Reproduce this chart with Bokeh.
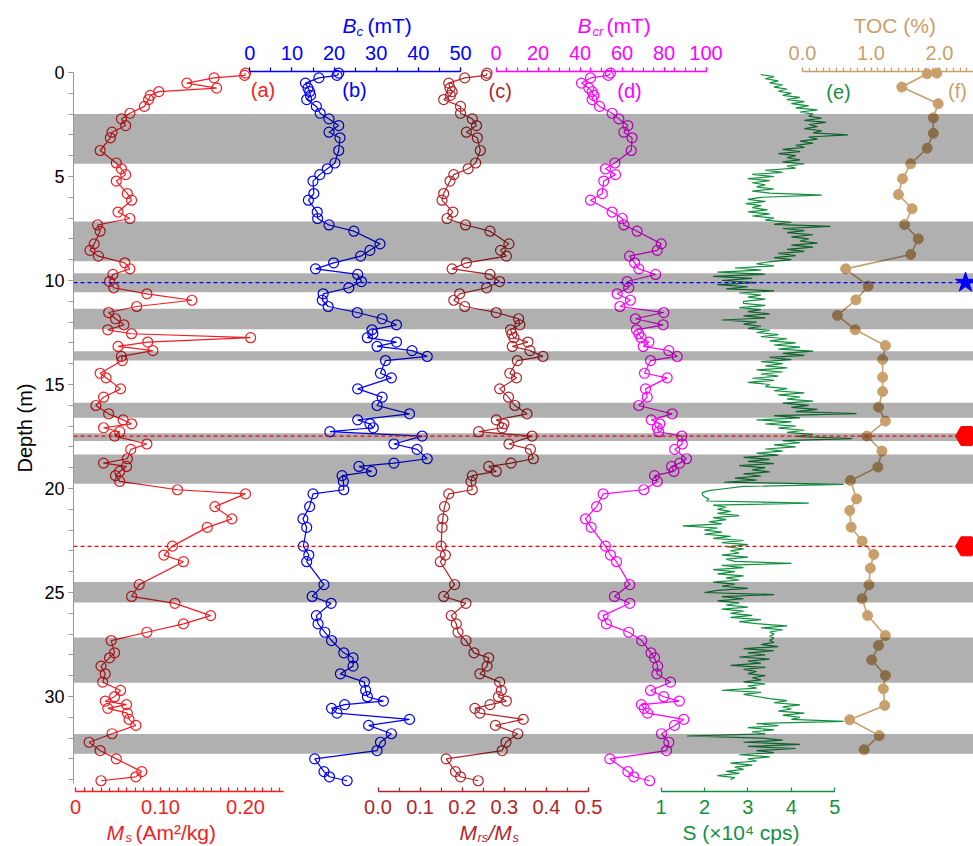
from bokeh.plotting import figure
from bokeh.models import Range1d, LinearAxis, FixedTicker, PrintfTickFormatter, Label, ColumnDataSource
from bokeh.embed import file_html
from bokeh.resources import INLINE

FONT = "Liberation Sans"

# ---------------- data ----------------
depth = [0.03, 0.14, 0.26, 0.51, 0.75, 0.92, 1.10, 1.30, 1.63, 1.96,
         2.23, 2.55, 2.87, 3.14, 3.75, 4.35, 4.63, 4.91, 5.22, 5.82,
         6.14, 6.71, 7.02, 7.33, 7.63, 8.24, 8.55, 8.83, 9.15, 9.44,
         9.71, 10.05, 10.35, 10.64, 10.95, 11.25, 11.54, 11.84, 12.13, 12.37,
         12.56, 12.75, 12.96, 13.17, 13.37, 13.65, 13.85, 14.46, 14.68, 15.21,
         15.61, 16.01, 16.41, 16.70, 16.89, 17.08, 17.27, 17.48, 17.86, 18.12,
         18.57, 18.78, 18.94, 19.18, 19.38, 19.66, 20.06, 20.26, 20.87, 21.46,
         21.87, 22.77, 23.20, 23.52, 24.62, 25.19, 25.52, 26.11, 26.51, 26.91,
         27.31, 27.90, 28.14, 28.54, 28.91, 29.31, 29.71, 30.01, 30.22, 30.39,
         30.57, 30.80, 31.10, 31.39, 31.79, 32.20, 32.60, 33.00, 33.61, 33.86,
         34.05]

ms = [0.200, 0.199, 0.163, 0.131, 0.166, 0.098, 0.088, 0.086, 0.081, 0.064,
      0.054, 0.059, 0.043, 0.041, 0.029, 0.048, 0.054, 0.059, 0.048, 0.061,
      0.066, 0.050, 0.064, 0.026, 0.029, 0.022, 0.017, 0.027, 0.058, 0.064,
      0.044, 0.040, 0.045, 0.084, 0.137, 0.072, 0.039, 0.047, 0.057, 0.038,
      0.066, 0.206, 0.085, 0.050, 0.091, 0.054, 0.055, 0.029, 0.036, 0.053,
      0.033, 0.024, 0.039, 0.056, 0.066, 0.033, 0.052, 0.046, 0.084, 0.065,
      0.061, 0.033, 0.060, 0.052, 0.047, 0.052, 0.120, 0.200, 0.164, 0.184,
      0.155, 0.114, 0.104, 0.127, 0.075, 0.066, 0.117, 0.159, 0.127, 0.084,
      0.042, 0.046, 0.040, 0.030, 0.035, 0.032, 0.053, 0.046, 0.035, 0.060,
      0.038, 0.061, 0.063, 0.071, 0.043, 0.016, 0.029, 0.048, 0.078, 0.071,
      0.030]

bc = [21.1, 20.7, 16.4, 13.2, 13.8, 14.2, 14.4, 13.5, 15.8, 16.7,
      18.8, 21.1, 18.8, 21.4, 21.1, 20.2, 18.4, 16.6, 15.0, 15.2,
      13.9, 16.0, 16.1, 18.8, 24.7, 30.9, 28.5, 26.3, 19.9, 15.6,
      25.6, 26.5, 23.5, 17.4, 17.2, 18.6, 25.5, 31.4, 34.8, 29.0,
      29.2, 27.9, 34.8, 30.2, 38.5, 42.1, 32.2, 31.0, 33.6, 25.6,
      31.4, 30.2, 37.9, 25.6, 28.5, 29.3, 19.0, 40.9, 34.2, 39.7,
      42.1, 34.2, 25.9, 28.9, 21.9, 22.2, 22.3, 15.0, 14.2, 12.6,
      13.5, 12.7, 14.0, 13.5, 17.6, 14.8, 19.3, 15.8, 16.2, 17.8,
      19.4, 22.3, 24.5, 24.5, 21.5, 27.2, 27.5, 27.9, 31.7, 22.5,
      19.4, 20.7, 37.9, 28.2, 33.6, 31.0, 30.2, 15.4, 17.6, 18.9,
      23.1]

mrs = [0.259, 0.257, 0.206, 0.168, 0.171, 0.176, 0.172, 0.156, 0.196, 0.196,
       0.224, 0.234, 0.210, 0.236, 0.243, 0.232, 0.214, 0.180, 0.171, 0.156,
       0.152, 0.178, 0.164, 0.208, 0.266, 0.311, 0.291, 0.305, 0.210, 0.176,
       0.266, 0.289, 0.258, 0.194, 0.180, 0.206, 0.281, 0.334, 0.337, 0.315,
       0.318, 0.323, 0.356, 0.319, 0.361, 0.392, 0.331, 0.313, 0.329, 0.289,
       0.310, 0.325, 0.354, 0.281, 0.299, 0.295, 0.239, 0.366, 0.311, 0.362,
       0.369, 0.316, 0.263, 0.281, 0.224, 0.221, 0.224, 0.168, 0.158, 0.154,
       0.152, 0.150, 0.160, 0.148, 0.182, 0.156, 0.209, 0.174, 0.186, 0.190,
       0.209, 0.228, 0.263, 0.259, 0.242, 0.289, 0.293, 0.286, 0.305, 0.266,
       0.230, 0.242, 0.345, 0.279, 0.332, 0.304, 0.295, 0.162, 0.184, 0.196,
       0.238]

bcr = [54.5, 53.5, 45.0, 40.7, 44.2, 45.8, 46.6, 45.8, 49.3, 55.3,
       58.5, 62.8, 60.9, 64.8, 64.4, 56.6, 52.1, 56.9, 51.3, 50.6,
       45.0, 55.3, 60.1, 60.9, 67.2, 78.7, 76.8, 63.6, 66.0, 68.0,
       76.0, 62.5, 63.2, 57.7, 64.0, 59.0, 79.9, 66.4, 79.6, 66.9,
       68.0, 69.1, 72.8, 70.1, 82.3, 86.3, 73.6, 70.7, 81.5, 71.2,
       72.0, 68.0, 83.9, 73.9, 78.0, 76.8, 77.5, 88.5, 88.7, 85.1,
       90.7, 87.5, 83.6, 84.7, 75.5, 76.8, 70.4, 51.0, 47.9, 42.6,
       45.3, 52.1, 54.5, 57.4, 63.7, 56.4, 63.7, 51.0, 52.6, 63.2,
       69.4, 73.8, 75.5, 77.0, 76.6, 83.1, 73.6, 79.9, 87.3, 69.2,
       70.6, 72.2, 89.4, 85.0, 78.8, 82.3, 81.2, 54.2, 62.8, 65.6,
       73.2]

# S (x10^4 cps), one row per metre of core (0.1 m steps)
s_values = [
    3.3, 3.6, 3.4, 3.7, 3.5, 3.8, 3.6, 3.9, 3.7, 4.0,
    3.8, 4.2, 3.9, 4.3, 4.0, 4.4, 4.1, 4.6, 4.2, 4.5,
    4.4, 4.7, 4.3, 4.8, 4.4, 4.6, 4.3, 4.7, 4.5, 5.3,
    4.4, 4.6, 4.2, 4.5, 4.1, 4.3, 3.8, 4.2, 3.7, 4.1,
    3.9, 4.2, 3.8, 4.3, 3.9, 4.1, 3.4, 3.8, 3.1, 3.6,
    3.0, 3.5, 3.1, 3.4, 3.2, 3.6, 3.1, 3.5, 4.7, 3.3,
    3.0, 3.4, 2.95, 3.3, 3.1, 3.45, 3.0, 3.5, 3.1, 3.6,
    3.4, 4.0, 3.6, 4.9, 3.8, 4.3, 3.9, 4.5, 4.0, 4.4,
    4.2, 4.6, 4.0, 4.5, 3.9, 4.3, 3.7, 4.1, 3.6, 4.0,
    3.5, 3.2, 3.6, 2.7, 3.3, 2.3, 3.4, 2.2, 3.1, 2.4,
    3.2, 2.3, 3.0, 2.5, 3.6, 2.8, 3.3, 3.0, 3.4, 2.9,
    2.9, 3.4, 2.8, 3.3, 3.0, 3.5, 2.9, 3.4, 2.4, 3.2,
    2.9, 3.3, 3.0, 3.5, 3.2, 3.7, 3.3, 3.9, 3.5, 4.1,
    3.6, 4.2, 3.7, 4.5, 3.8, 4.3, 3.5, 4.0, 3.3, 3.8,
    3.4, 3.9, 3.2, 3.8, 3.3, 3.7, 3.1, 3.6, 3.0, 3.5,
    3.4, 3.9, 3.6, 4.3, 3.7, 4.2, 3.9, 4.5, 3.8, 4.4,
    4.0, 4.6, 4.1, 5.5, 3.6, 4.2, 3.2, 4.0, 3.4, 4.1,
    3.7, 4.3, 3.9, 4.5, 4.1, 5.4, 3.8, 4.2, 3.6, 4.1,
    3.4, 3.8, 3.2, 3.7, 2.9, 3.5, 3.0, 3.6, 2.8, 3.4,
    3.1, 3.5, 2.9, 3.3, 2.7, 3.2, 2.45, 5.2, 2.9, 2.5,
    2.1, 1.95, 1.95, 2.0, 2.1, 2.05, 4.4, 2.2, 2.5, 2.3,
    2.6, 2.3, 2.8, 2.2, 2.5, 2.1, 2.4, 1.5, 2.3, 2.0,
    2.4, 2.0, 2.6, 2.2, 2.9, 2.4, 3.0, 2.5, 2.9, 2.6,
    2.8, 2.4, 3.0, 2.5, 2.7, 4.0, 2.4, 2.9, 2.2, 2.7,
    2.3, 2.9, 2.5, 2.8, 2.2, 2.7, 2.4, 3.0, 2.3, 2.0,
    3.6, 2.4, 2.9, 2.3, 2.8, 2.5, 3.0, 2.4, 2.9, 2.6,
    3.1, 2.6, 3.3, 2.8, 3.2, 3.9, 3.3, 3.8, 3.5, 3.6,
    3.5, 3.6, 3.5, 3.6, 3.3, 3.7, 2.9, 3.6, 3.0, 3.4,
    2.8, 3.5, 3.0, 3.3, 2.6, 3.4, 2.9, 3.2, 3.0, 3.4,
    3.1, 3.3, 2.9, 3.4, 3.0, 3.2, 2.4, 3.3, 2.9, 3.2,
    3.5, 3.9, 3.6, 4.2, 3.8, 4.0, 3.7, 4.3, 3.8, 4.2,
    4.0, 5.2, 3.2, 3.7, 3.0, 3.6, 3.1, 3.4, 1.6, 3.3,
    3.8, 2.9, 4.2, 3.0, 4.1, 3.2, 3.6, 2.8, 3.5, 3.0,
    3.2, 2.6, 3.1, 2.7, 2.9, 2.5, 2.8, 2.3, 2.7, 2.6,
]
s_depth = [round(0.1 + 0.1 * i, 2) for i in range(len(s_values))]

toc_depth = [0.03, 0.06, 0.70, 1.50, 2.18, 2.92, 3.64, 4.39, 5.11, 5.87,
             6.55, 7.31, 8.00, 8.75, 9.44, 10.27, 10.93, 11.68, 12.37, 13.13,
             13.80, 14.65, 15.34, 16.09, 16.76, 17.48, 18.20, 18.97, 19.62, 20.50,
             21.06, 21.86, 22.53, 23.17, 23.83, 24.63, 25.30, 26.11, 27.07, 27.55,
             28.24, 28.99, 29.63, 30.43, 31.12, 31.88, 32.56]
toc = [1.96, 1.82, 1.45, 1.98, 1.91, 1.91, 1.82, 1.58, 1.46, 1.40,
       1.60, 1.49, 1.69, 1.58, 0.63, 0.96, 0.78, 0.51, 0.77, 1.21,
       1.17, 1.17, 1.17, 1.11, 1.21, 0.94, 1.16, 1.10, 0.70, 0.79,
       0.69, 0.71, 0.87, 1.04, 0.99, 0.97, 0.87, 0.95, 1.21, 1.11,
       1.01, 1.21, 1.18, 1.20, 0.69, 1.12, 0.90]

band_top = [2.00, 7.16, 9.65, 11.36, 13.40, 15.88, 17.34, 18.37, 24.49, 27.16, 31.80]
band_bottom = [4.39, 9.07, 10.56, 12.34, 13.85, 16.60, 17.72, 19.77, 25.48, 29.34, 32.75]

blue_event_depth = [10.10]
red_event_depth = [17.48, 22.78]

depth_ticks = [0, 5, 10, 15, 20, 25, 30]

# ---------------- layout (canvas pixels) ----------------
W, H = 973, 846
AXIS_X = 73          # depth axis line
Y0_PX = 72           # pixel row of depth 0
PX_PER_M = 20.8


def d(py):
    return (py - Y0_PX) / PX_PER_M


def prange(v0, x0, v1, x1):
    k = (x1 - x0) / (v1 - v0)
    return Range1d(v0 + (0 - x0) / k, v0 + (W - x0) / k)


RED = "#F21D23"
BLUE = "#0000FF"
DKRED = "#B3242A"
MAG = "#FF00FF"
GREEN = "#13903F"
TAN = "#C9A06C"

p = figure(width=W, height=H, output_backend="svg", toolbar_location=None,
           x_range=Range1d(0, W), y_range=Range1d(d(H), d(0)),
           x_axis_location=None, y_axis_location=None,
           min_border=0, outline_line_color=None)
p.grid.visible = False

p.extra_x_ranges = {
    "ms": prange(0, 75, 0.2, 245),
    "bc": prange(0, 249.3, 50, 460),
    "mrs": prange(0, 377.5, 0.5, 588),
    "bcr": prange(0, 495.5, 100, 705.5),
    "s": prange(1, 660.5, 5, 834.3),
    "toc": prange(0, 802, 2, 939),
}

# depth axis
ya = LinearAxis(fixed_location=AXIS_X, bounds=(0, 34.2),
                ticker=FixedTicker(ticks=depth_ticks, minor_ticks=list(range(0, 35))),
                axis_label="Depth (m)", axis_label_text_font=FONT,
                axis_label_text_font_style="normal", axis_label_text_font_size="20px",
                axis_label_text_color="black", axis_label_standoff=5,
                major_label_text_font=FONT, major_label_text_font_size="18px",
                major_label_text_color="black", major_label_standoff=4,
                axis_line_color="#9A9A9A", major_tick_line_color="#9A9A9A",
                minor_tick_line_color="#9A9A9A",
                major_tick_out=5, major_tick_in=0, minor_tick_out=5, minor_tick_in=0)
p.add_layout(ya, "left")


def add_axis(name, side, color, ticks, minor, bounds, fmt=None, overrides=None):
    loc = d(71) if side == "above" else d(790.5)
    ax = LinearAxis(x_range_name=name, fixed_location=loc, bounds=bounds,
                    ticker=FixedTicker(ticks=ticks, minor_ticks=minor),
                    axis_line_color=color, axis_line_width=1.3,
                    major_tick_line_color=color, minor_tick_line_color=color,
                    major_tick_line_width=1.2, minor_tick_line_width=1.2,
                    major_label_text_color=color, major_label_text_font=FONT,
                    major_label_text_font_size="20px")
    if side == "above":
        ax.major_tick_out, ax.major_tick_in = 4, 0
        ax.minor_tick_out, ax.minor_tick_in = 4, 0
        ax.major_label_standoff = 8
    else:
        ax.major_tick_out, ax.major_tick_in = 0, 4
        ax.minor_tick_out, ax.minor_tick_in = 0, 4
        ax.major_label_standoff = 9
    if fmt:
        ax.formatter = PrintfTickFormatter(format=fmt)
    if overrides:
        ax.major_label_overrides = overrides
    p.add_layout(ax, side)


add_axis("ms", "below", RED, [0, 0.1, 0.2], [i / 100 for i in range(0, 25)], (0, 0.245),
         overrides={0: "0", 0.1: "0.10", 0.2: "0.20"})
add_axis("mrs", "below", DKRED, [0, 0.1, 0.2, 0.3, 0.4, 0.5],
         [i / 20 for i in range(0, 11)], (0, 0.5), fmt="%.1f")
add_axis("s", "below", GREEN, [1, 2, 3, 4, 5], [], (1, 5))
add_axis("bc", "above", BLUE, [0, 10, 20, 30, 40, 50], list(range(0, 51, 5)), (0, 50))
add_axis("bcr", "above", MAG, [0, 20, 40, 60, 80, 100], list(range(0, 101, 5)), (0, 100))
add_axis("toc", "above", TAN, [0, 1, 2], [i / 10 for i in range(0, 26)], (0, 2.6), fmt="%.1f")

# ---------------- data glyphs ----------------
src = ColumnDataSource(dict(depth=depth, ms=ms, bc=bc, mrs=mrs, bcr=bcr))
for col, color in (("ms", RED), ("bc", BLUE), ("mrs", DKRED), ("bcr", MAG)):
    p.line(col, "depth", source=src, x_range_name=col, line_color=color, line_width=1.2)
    p.scatter(col, "depth", source=src, x_range_name=col, marker="circle", size=10,
              fill_color=None, line_color=color, line_width=1.2)

p.line(s_values, s_depth, x_range_name="s", line_color=GREEN, line_width=1.2)

p.line(toc, toc_depth, x_range_name="toc", line_color=TAN, line_width=1.6)
p.scatter(toc, toc_depth, x_range_name="toc", marker="circle", size=10,
          fill_color=TAN, line_color=TAN)

# grey intervals, drawn over the data (semi-transparent)
p.quad(left=AXIS_X, right=W, top=band_top, bottom=band_bottom,
       fill_color="black", fill_alpha=0.31, line_color=None)

# event lines and markers
p.segment(x0=AXIS_X, x1=W, y0=blue_event_depth, y1=blue_event_depth,
          line_color=BLUE, line_width=1.3, line_dash="4 3")
p.segment(x0=AXIS_X, x1=W, y0=red_event_depth, y1=red_event_depth,
          line_color="#FF0000", line_width=1.3, line_dash="4 3")
p.scatter(x=[965] * len(blue_event_depth), y=blue_event_depth, marker="star",
          size=21, fill_color=BLUE, line_color=BLUE)
p.scatter(x=[966] * len(red_event_depth), y=red_event_depth, marker="hex",
          size=22, fill_color="#FF0000", line_color="#FF0000")


# ---------------- texts ----------------
def lab(text, px, py, color, size="20px", style="normal", align="left",
        baseline="alphabetic"):
    p.add_layout(Label(x=px, y=d(py), text=text, text_color=color,
                       text_font=FONT, text_font_size=size, text_font_style=style,
                       text_align=align, text_baseline=baseline))


for t, x, y, c in (("(a)", 262.5, 89, RED), ("(b)", 354, 89, BLUE),
                   ("(c)", 499.7, 90, DKRED), ("(d)", 629, 90, MAG),
                   ("(e)", 838, 91, GREEN), ("(f)", 957, 90, TAN)):
    lab(t, x, y, c, align="center", baseline="middle")

# top axis titles
lab("B", 342, 25, BLUE, "21px", "italic")
lab("c", 356, 31, BLUE, "13px", "italic")
lab("(mT)", 367, 25, BLUE, "21px")
lab("B", 577, 25, MAG, "21px", "italic")
lab("cr", 592, 31, MAG, "13px", "italic")
lab("(mT)", 606, 25, MAG, "21px")
lab("TOC (%)", 853, 25, TAN, "21px")

# bottom axis titles
lab("M", 106, 832, RED, "21px", "italic")
lab("s", 125, 837, RED, "13px", "italic")
lab("(Am²/kg)", 135, 832, RED, "21px")
lab("M", 459, 832, DKRED, "21px", "italic")
lab("rs", 477, 837, DKRED, "13px", "italic")
lab("/M", 488, 832, DKRED, "21px", "italic")
lab("s", 512, 837, DKRED, "13px", "italic")
lab("S (×10⁴ cps)", 682, 832, GREEN, "21px")

open("out.html", "w").write(file_html(p, INLINE))
